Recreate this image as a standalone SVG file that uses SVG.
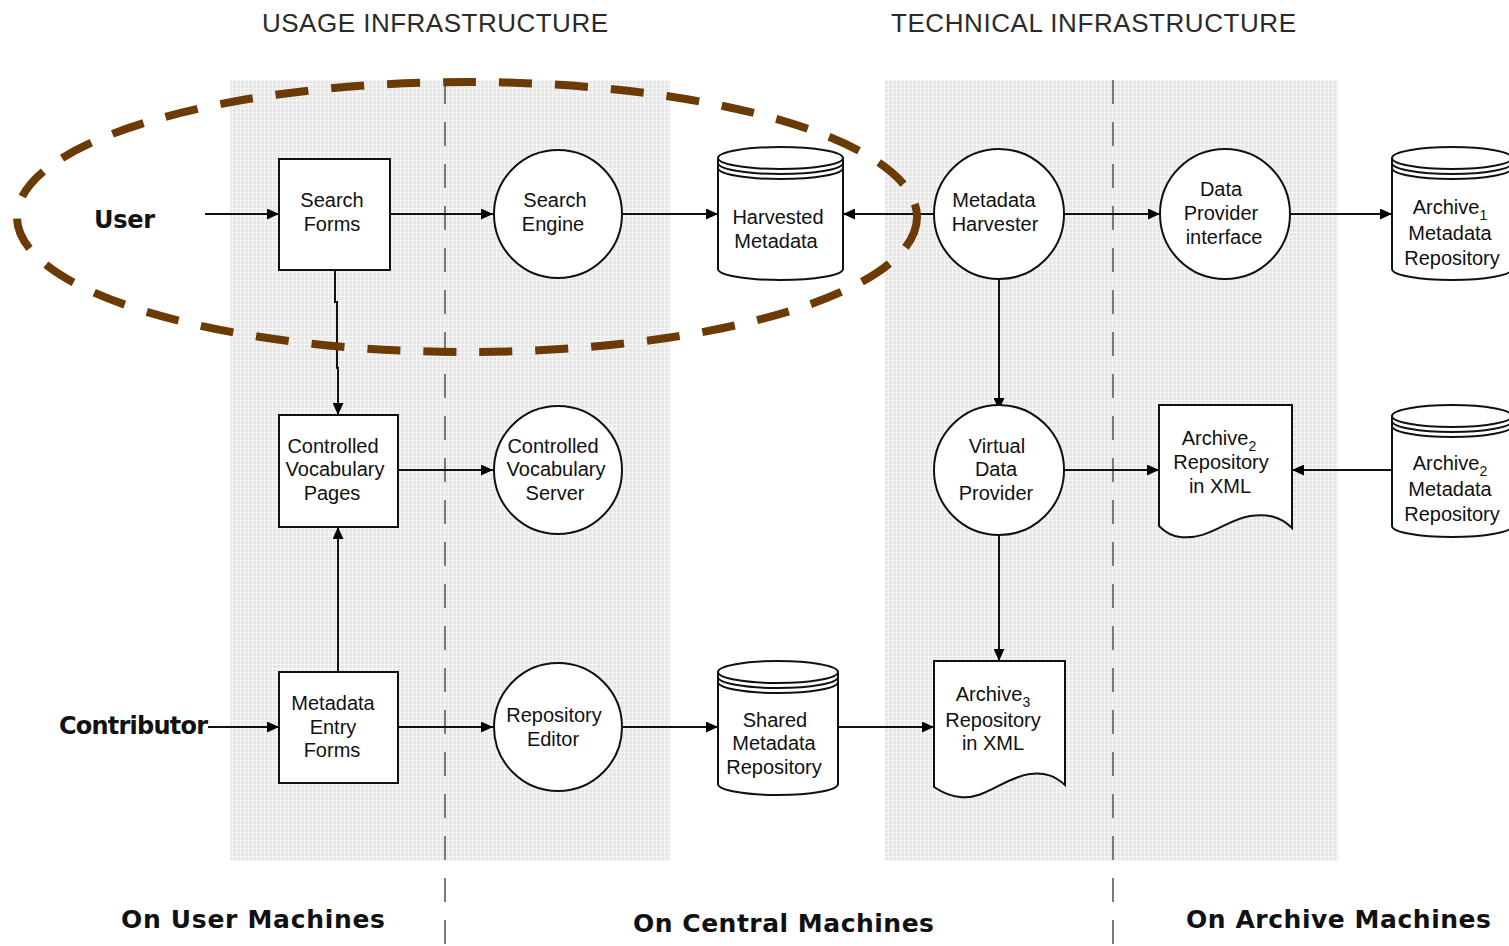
<svg xmlns="http://www.w3.org/2000/svg" width="1509" height="946" viewBox="0 0 1509 946">
<defs>
<pattern id="grid" width="4" height="4" patternUnits="userSpaceOnUse">
<rect width="4" height="4" fill="#e6e6e6"/>
<rect width="4" height="1" fill="#ffffff" opacity="0.6"/>
<rect width="1" height="4" fill="#ffffff" opacity="0.6"/>
</pattern>
<marker id="arr" markerUnits="userSpaceOnUse" markerWidth="13" markerHeight="11" refX="12" refY="5.5" orient="auto">
<path d="M0,0 L12,5.5 L0,11 z" fill="#000"/>
</marker>
<style>
.n{fill:#fff;stroke:#111;stroke-width:2}
.t{font-family:"Liberation Sans",Arial,sans-serif;font-size:20px;fill:#111;text-anchor:middle}
.s{font-size:14px}
.c{fill:none;stroke:#111;stroke-width:2;marker-end:url(#arr)}
.h{font-family:"Liberation Sans",Arial,sans-serif;font-size:26px;fill:#2a2a2a}
.b{font-family:"DejaVu Sans",Verdana,sans-serif;font-weight:bold;fill:#111}
.v{stroke:#7a7a7a;stroke-width:2;stroke-dasharray:24 18;fill:none}
</style>
</defs>
<rect width="1509" height="946" fill="#fff"/>
<g id="background">
<rect x="230" y="80" width="440" height="781" fill="url(#grid)"/>
<rect x="885" y="80" width="453" height="781" fill="url(#grid)"/>
<line class="v" x1="445" y1="80" x2="445" y2="946"/>
<line class="v" x1="1113" y1="80" x2="1113" y2="946"/>
</g>
<g id="headers">
<text class="h" x="262" y="32" textLength="346">USAGE INFRASTRUCTURE</text>
<text class="h" x="891" y="32" textLength="405">TECHNICAL INFRASTRUCTURE</text>
<text class="b" x="94" y="228" font-size="24" textLength="61">User</text>
<text class="b" x="59" y="734" font-size="24" textLength="149">Contributor</text>
<text class="b" x="121" y="928" font-size="25" textLength="264">On User Machines</text>
<text class="b" x="633" y="932" font-size="25" textLength="301">On Central Machines</text>
<text class="b" x="1186" y="928" font-size="25" textLength="305">On Archive Machines</text>
</g>
<g id="connectors">
<line class="c" x1="205" y1="214" x2="279" y2="214"/>
<line class="c" x1="390" y1="214" x2="493" y2="214"/>
<line class="c" x1="623" y1="214" x2="718" y2="214"/>
<line class="c" x1="934" y1="214" x2="843" y2="214"/>
<line class="c" x1="1064" y1="214" x2="1160" y2="214"/>
<line class="c" x1="1290" y1="214" x2="1392" y2="214"/>
<polyline class="c" points="335,270 335,302 337,302 337,368 338,368 338,415"/>
<line class="c" x1="398" y1="470" x2="493" y2="470"/>
<line class="c" x1="338" y1="672" x2="338" y2="527"/>
<line class="c" x1="208" y1="727" x2="279" y2="727"/>
<line class="c" x1="398" y1="727" x2="493" y2="727"/>
<line class="c" x1="623" y1="727" x2="718" y2="727"/>
<line class="c" x1="838" y1="727" x2="934" y2="727"/>
<line class="c" x1="999" y1="279" x2="999" y2="410"/>
<line class="c" x1="1064" y1="470" x2="1159" y2="470"/>
<line class="c" x1="1392" y1="470" x2="1292" y2="470"/>
<line class="c" x1="999" y1="535" x2="999" y2="661"/>
</g>
<g id="search-forms">
<rect class="n" x="279" y="159" width="111" height="111"/>
<text class="t" x="332" y="207">Search</text>
<text class="t" x="332" y="231">Forms</text>
</g>
<g id="search-engine">
<circle class="n" cx="558" cy="214" r="64"/>
<text class="t" x="555" y="207">Search</text>
<text class="t" x="553" y="231">Engine</text>
</g>
<g id="harvested-metadata">
<path class="n" d="M718,158 V269 A62.5,11 0 0 0 843,269 V158 A62.5,11 0 0 0 718,158 A62.5,11 0 0 0 843,158"/>
<path fill="none" stroke="#111" stroke-width="2" d="M718,163 A62.5,11 0 0 0 843,163 M718,168 A62.5,11 0 0 0 843,168"/>
<text class="t" x="778" y="224">Harvested</text>
<text class="t" x="776" y="248">Metadata</text>
</g>
<g id="metadata-harvester">
<circle class="n" cx="999" cy="214" r="65"/>
<text class="t" x="994" y="207">Metadata</text>
<text class="t" x="995" y="231">Harvester</text>
</g>
<g id="data-provider-interface">
<circle class="n" cx="1225" cy="214" r="65"/>
<text class="t" x="1221" y="196">Data</text>
<text class="t" x="1221" y="220">Provider</text>
<text class="t" x="1224" y="244">interface</text>
</g>
<g id="archive1-metadata">
<path class="n" d="M1392,158 V269 A60,11 0 0 0 1512,269 V158 A60,11 0 0 0 1392,158 A60,11 0 0 0 1512,158"/>
<path fill="none" stroke="#111" stroke-width="2" d="M1392,163 A60,11 0 0 0 1512,163 M1392,168 A60,11 0 0 0 1512,168"/>
<text class="t" x="1450" y="214">Archive<tspan class="s" dy="6">1</tspan></text>
<text class="t" x="1450" y="240">Metadata</text>
<text class="t" x="1452" y="265">Repository</text>
</g>
<g id="cv-pages">
<rect class="n" x="279" y="415" width="119" height="112"/>
<text class="t" x="333" y="453">Controlled</text>
<text class="t" x="335" y="476">Vocabulary</text>
<text class="t" x="332" y="500">Pages</text>
</g>
<g id="cv-server">
<circle class="n" cx="558" cy="470" r="64"/>
<text class="t" x="553" y="453">Controlled</text>
<text class="t" x="556" y="476">Vocabulary</text>
<text class="t" x="555" y="500">Server</text>
</g>
<g id="virtual-data-provider">
<circle class="n" cx="999" cy="470" r="65"/>
<text class="t" x="997" y="453">Virtual</text>
<text class="t" x="996" y="476">Data</text>
<text class="t" x="996" y="500">Provider</text>
</g>
<g id="archive2-xml">
<path class="n" d="M1159,526 V405 H1292 V528 C1280,516 1268,514 1250,516 C1225,520 1210,540 1180,537 C1170,536 1164,531 1159,526 Z"/>
<text class="t" x="1219" y="445">Archive<tspan class="s" dy="6">2</tspan></text>
<text class="t" x="1221" y="469">Repository</text>
<text class="t" x="1220" y="493">in XML</text>
</g>
<g id="archive2-metadata">
<path class="n" d="M1392,416 V526 A60,11 0 0 0 1512,526 V416 A60,11 0 0 0 1392,416 A60,11 0 0 0 1512,416"/>
<path fill="none" stroke="#111" stroke-width="2" d="M1392,421 A60,11 0 0 0 1512,421 M1392,426 A60,11 0 0 0 1512,426"/>
<text class="t" x="1450" y="470">Archive<tspan class="s" dy="6">2</tspan></text>
<text class="t" x="1450" y="496">Metadata</text>
<text class="t" x="1452" y="521">Repository</text>
</g>
<g id="metadata-entry-forms">
<rect class="n" x="279" y="672" width="119" height="111"/>
<text class="t" x="333" y="710">Metadata</text>
<text class="t" x="333" y="734">Entry</text>
<text class="t" x="332" y="757">Forms</text>
</g>
<g id="repository-editor">
<circle class="n" cx="558" cy="727" r="64"/>
<text class="t" x="554" y="722">Repository</text>
<text class="t" x="553" y="746">Editor</text>
</g>
<g id="shared-metadata">
<path class="n" d="M718,672 V784 A60,11 0 0 0 838,784 V672 A60,11 0 0 0 718,672 A60,11 0 0 0 838,672"/>
<path fill="none" stroke="#111" stroke-width="2" d="M718,677 A60,11 0 0 0 838,677 M718,682 A60,11 0 0 0 838,682"/>
<text class="t" x="775" y="727">Shared</text>
<text class="t" x="774" y="750">Metadata</text>
<text class="t" x="774" y="774">Repository</text>
</g>
<g id="archive3-xml">
<path class="n" d="M934,787 V661 H1065 V785 C1055,776 1045,772 1030,774 C1005,777 985,800 960,797 C948,796 940,791 934,787 Z"/>
<text class="t" x="993" y="701">Archive<tspan class="s" dy="6">3</tspan></text>
<text class="t" x="993" y="727">Repository</text>
<text class="t" x="993" y="750">in XML</text>
</g>
<g id="highlight">
<ellipse cx="467" cy="217" rx="450" ry="135" fill="none" stroke="#6b3a05" stroke-width="8" stroke-dasharray="33 23"/>
</g>
</svg>
